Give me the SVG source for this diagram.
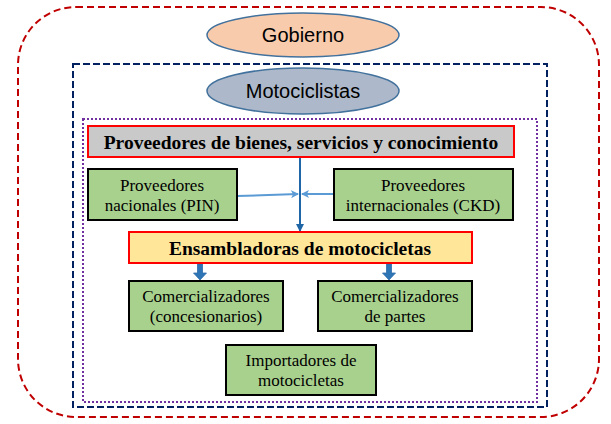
<svg xmlns="http://www.w3.org/2000/svg" width="611" height="424" viewBox="0 0 611 424">
<defs>
<style>
.serif{font-family:"Liberation Serif","Times New Roman",serif;fill:#000;text-anchor:middle}
.sans{font-family:"Liberation Sans",Arial,sans-serif;fill:#000;text-anchor:middle;font-size:20px}
.green{fill:#A9D18E;stroke:#000;stroke-width:2}
.gt{font-size:17px}
.bt{font-size:19.5px;font-weight:bold}
</style>
<marker id="ah" markerWidth="8" markerHeight="8" refX="7" refY="4" orient="auto" markerUnits="userSpaceOnUse">
<path d="M0,0 L8,4 L0,8 Z" fill="#1F66A6"/>
</marker>
<marker id="ahl" markerWidth="8" markerHeight="8" refX="7" refY="4" orient="auto" markerUnits="userSpaceOnUse">
<path d="M0,0 L8,4 L0,8 L2,4 Z" fill="#5B9BD5"/>
</marker>
</defs>
<rect x="0" y="0" width="611" height="424" fill="#fff"/>
<g id="boundaries">
<rect x="18" y="7" width="581" height="410" rx="58" ry="58" fill="none" stroke="#C00000" stroke-width="2" stroke-dasharray="7 4"/>
<rect x="73" y="64" width="474" height="343" fill="none" stroke="#002060" stroke-width="2" stroke-dasharray="7 3"/>
<rect x="83" y="119" width="454" height="283" fill="none" stroke="#7030A0" stroke-width="2" stroke-dasharray="2 2"/>
</g>
<g id="gobierno">
<ellipse cx="303" cy="35" rx="96" ry="22" fill="#F8CBAD" stroke="#41719C" stroke-width="1.5"/>
<text class="sans" x="303" y="42">Gobierno</text>
</g>
<g id="motociclistas">
<ellipse cx="303" cy="91" rx="96" ry="23" fill="#ADB9CA" stroke="#41719C" stroke-width="1.5"/>
<text class="sans" x="303" y="98">Motociclistas</text>
</g>
<g id="connectors">
<line x1="300" y1="157" x2="300" y2="231" stroke="#1F66A6" stroke-width="2" marker-end="url(#ah)"/>
<line x1="237" y1="196" x2="298" y2="194" stroke="#5B9BD5" stroke-width="2" marker-end="url(#ahl)"/>
<line x1="333" y1="194" x2="302" y2="194" stroke="#5B9BD5" stroke-width="2" marker-end="url(#ahl)"/>
<path d="M197.5,264 H202.5 V273 H206.5 L200,280 L193.5,273 H197.5 Z" fill="#2E75B6" stroke="#2E6DA8" stroke-width="0.8"/>
<path d="M386.5,264 H391.5 V273 H395.5 L389,280 L382.5,273 H386.5 Z" fill="#2E75B6" stroke="#2E6DA8" stroke-width="0.8"/>
</g>
<g id="proveedores-bienes">
<rect x="88" y="126" width="426" height="31" fill="#C9C9C9" stroke="#FF0000" stroke-width="2"/>
<text class="serif bt" x="301" y="149">Proveedores de bienes, servicios y conocimiento</text>
</g>
<g id="proveedores-nacionales">
<rect class="green" x="88" y="169" width="149" height="51"/>
<text class="serif gt" x="162" y="191">Proveedores</text>
<text class="serif gt" x="162" y="211">nacionales (PIN)</text>
</g>
<g id="proveedores-internacionales">
<rect class="green" x="334" y="169" width="179" height="51"/>
<text class="serif gt" x="423" y="191">Proveedores</text>
<text class="serif gt" x="423" y="211">internacionales (CKD)</text>
</g>
<g id="ensambladoras">
<rect x="129" y="232" width="343" height="31" fill="#FFE699" stroke="#FF0000" stroke-width="2"/>
<text class="serif bt" x="300" y="255">Ensambladoras de motocicletas</text>
</g>
<g id="comercializadores-concesionarios">
<rect class="green" x="129" y="281" width="154" height="50"/>
<text class="serif gt" x="206" y="302">Comercializadores</text>
<text class="serif gt" x="206" y="322">(concesionarios)</text>
</g>
<g id="comercializadores-partes">
<rect class="green" x="318" y="281" width="154" height="50"/>
<text class="serif gt" x="395" y="302">Comercializadores</text>
<text class="serif gt" x="395" y="322">de partes</text>
</g>
<g id="importadores">
<rect class="green" x="226" y="345" width="150" height="50"/>
<text class="serif gt" x="301" y="366">Importadores de</text>
<text class="serif gt" x="301" y="386">motocicletas</text>
</g>
</svg>
